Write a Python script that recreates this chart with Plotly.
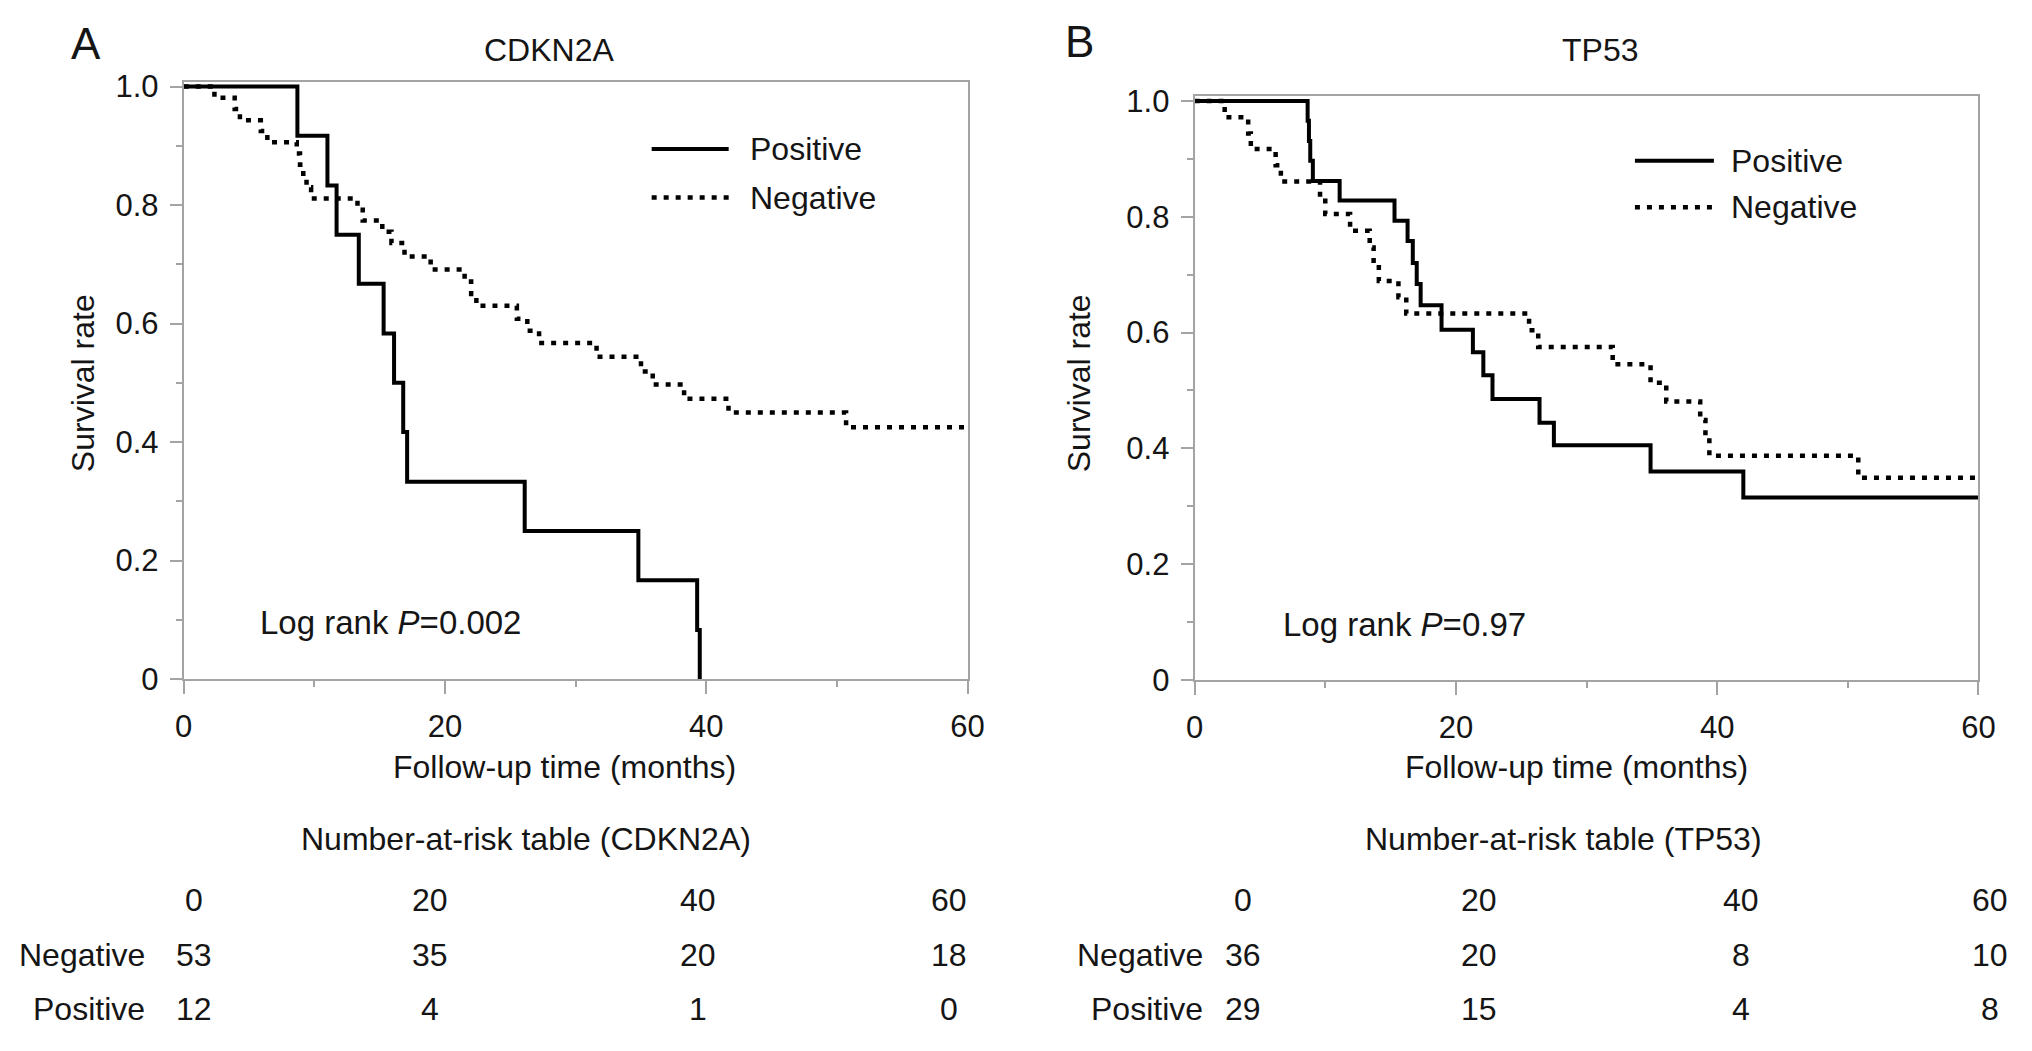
import plotly.graph_objects as go

W, H = 2032, 1051

# Kaplan-Meier step points (months, survival)
cdkn2a_pos_t = [0, 8.7, 11.0, 11.7, 13.4, 15.3, 16.1, 16.8, 17.1, 26.1, 34.8, 39.3, 39.5]
cdkn2a_pos_s = [1.0, 0.917, 0.833, 0.750, 0.667, 0.583, 0.500, 0.417, 0.333, 0.250, 0.167, 0.083, 0.0]

cdkn2a_neg_t = [0, 2.35, 3.9, 4.3, 5.9, 6.4, 8.65, 8.9, 9.15, 9.4, 9.75, 13.3, 13.7, 15.2, 15.9,
                16.9, 18.9, 21.5, 22.0, 22.4, 25.5, 26.3, 27.2, 31.6, 35.0, 35.9, 38.3, 41.7, 50.7, 60]
cdkn2a_neg_s = [1.0, 0.981, 0.962, 0.943, 0.925, 0.906, 0.887, 0.868, 0.849, 0.830, 0.811, 0.792,
                0.774, 0.755, 0.736, 0.713, 0.691, 0.671, 0.650, 0.630, 0.608, 0.588, 0.567, 0.544,
                0.519, 0.497, 0.473, 0.450, 0.425, 0.425]

tp53_pos_t = [0, 8.65, 8.75, 8.85, 9.05, 11.1, 15.3, 16.3, 16.7, 17.0, 17.3, 18.9, 21.3, 22.1,
              22.8, 26.4, 27.5, 34.9, 42.0, 60]
tp53_pos_s = [1.0, 0.966, 0.931, 0.897, 0.862, 0.828, 0.793, 0.758, 0.720, 0.684, 0.647, 0.605,
              0.566, 0.526, 0.485, 0.444, 0.405, 0.360, 0.315, 0.315]

tp53_neg_t = [0, 2.3, 4.1, 4.3, 6.2, 6.6, 9.6, 10.0, 11.9, 13.4, 13.7, 14.1, 15.6, 16.2, 25.6,
              26.3, 32.0, 34.9, 36.1, 38.7, 39.1, 39.4, 50.8, 60]
tp53_neg_s = [1.0, 0.972, 0.944, 0.917, 0.889, 0.861, 0.833, 0.805, 0.776, 0.747, 0.718, 0.689,
              0.661, 0.633, 0.604, 0.575, 0.545, 0.513, 0.481, 0.449, 0.418, 0.387, 0.349, 0.349]

# number-at-risk tables
risk_times = [0, 20, 40, 60]
cdkn2a_risk_neg = [53, 35, 20, 18]
cdkn2a_risk_pos = [12, 4, 1, 0]
tp53_risk_neg = [36, 20, 8, 10]
tp53_risk_pos = [29, 15, 4, 8]

x_tickvals = [0, 20, 40, 60]
y_tickvals = [0, 0.2, 0.4, 0.6, 0.8, 1.0]
y_ticktext = ["0", "0.2", "0.4", "0.6", "0.8", "1.0"]

FONT = "Liberation Sans, Arial, Helvetica, sans-serif"
GREY = "#a3a3a3"
TXT = "#151515"
DOT = "5px,7px"


def px(x):
    return x / W


def py(y):
    return 1 - y / H


# pixel layout of the two panels
panels = [
    dict(xa="x", ya="y", letter="A", title="CDKN2A",
         pos=(cdkn2a_pos_t, cdkn2a_pos_s), neg=(cdkn2a_neg_t, cdkn2a_neg_s),
         risk_neg=cdkn2a_risk_neg, risk_pos=cdkn2a_risk_pos, p="0.002",
         plot=(177, 971, 71.7, 686.7, 1.0082),
         letter_xy=(78, 32), title_xy=(547, 39), ytitle_xy=(75, 382), xtitle_xy=(563, 777),
         leg=(651, 729, 749, 141, 191), logrank=(252, 628),
         tab_title_x=524, tab_cols=[187, 426, 698, 952], tab_lab_x=140),
    dict(xa="x2", ya="y2", letter="B", title="TP53",
         pos=(tp53_pos_t, tp53_pos_s), neg=(tp53_neg_t, tp53_neg_s),
         risk_neg=tp53_risk_neg, risk_pos=tp53_risk_pos, p="0.97",
         plot=(1201, 1995, 86.7, 687.3, 1.0084),
         letter_xy=(1084, 30), title_xy=(1612, 39), ytitle_xy=(1084, 382), xtitle_xy=(1588, 777),
         leg=(1647, 1727, 1742, 153, 201), logrank=(1288, 630),
         tab_title_x=1575, tab_cols=[1250, 1489, 1754, 2007], tab_lab_x=1211),
]

fig = go.Figure()
annotations = []
shapes = []


def note(x, y, text, size=32, xanchor="center", angle=0):
    annotations.append(dict(
        x=px(x), y=py(y), xref="paper", yref="paper", text=text, showarrow=False,
        xanchor=xanchor, yanchor="middle", textangle=angle,
        font=dict(family=FONT, size=size, color=TXT)))


for i, p in enumerate(panels):
    fig.add_trace(go.Scatter(
        x=p["pos"][0], y=p["pos"][1], mode="lines", xaxis=p["xa"], yaxis=p["ya"],
        line=dict(shape="hv", color="black", width=4), showlegend=False, hoverinfo="skip"))
    fig.add_trace(go.Scatter(
        x=p["neg"][0], y=p["neg"][1], mode="lines", xaxis=p["xa"], yaxis=p["ya"],
        line=dict(shape="hv", color="black", width=4.5, dash=DOT), showlegend=False, hoverinfo="skip"))

    x0, x1, ytop, ybot, ymax = p["plot"]
    sfx = "" if i == 0 else str(i + 1)
    axis_common = dict(showgrid=False, zeroline=False, showline=True, linecolor=GREY, linewidth=2,
                       mirror=True, ticks="outside", tickcolor=GREY, tickwidth=2,
                       tickfont=dict(family=FONT, size=31, color=TXT))
    fig.layout["xaxis" + sfx] = dict(
        axis_common, domain=[px(x0), px(x1)], range=[0, 60], tickmode="array",
        tickvals=x_tickvals, ticklen=13, ticklabelstandoff=6, anchor=p["ya"],
        minor=dict(tickvals=[10, 30, 50], ticks="outside", ticklen=6, tickcolor=GREY, tickwidth=2))
    fig.layout["yaxis" + sfx] = dict(
        axis_common, domain=[py(ybot), py(ytop)], range=[0, ymax], tickmode="array",
        tickvals=y_tickvals, ticktext=y_ticktext, ticklen=12, ticklabelstandoff=5, anchor=p["xa"],
        minor=dict(tickvals=[0.1, 0.3, 0.5, 0.7, 0.9], ticks="outside", ticklen=6,
                   tickcolor=GREY, tickwidth=2))

    note(*p["letter_xy"], p["letter"], size=44)
    note(*p["title_xy"], p["title"], size=32)
    note(*p["ytitle_xy"], "Survival rate", size=32, angle=-90)
    note(*p["xtitle_xy"], "Follow-up time (months)", size=32)
    note(*p["logrank"], "Log rank <i>P</i>=" + p["p"], size=33, xanchor="left")

    # legend drawn as short line samples with labels
    lx0, lx1, ltx, ly_pos, ly_neg = p["leg"]
    shapes.append(dict(type="line", xref="paper", yref="paper", x0=px(lx0), x1=px(lx1),
                       y0=py(ly_pos), y1=py(ly_pos), line=dict(color="black", width=4)))
    shapes.append(dict(type="line", xref="paper", yref="paper", x0=px(lx0), x1=px(lx1),
                       y0=py(ly_neg), y1=py(ly_neg), line=dict(color="black", width=4.5, dash=DOT)))
    note(ltx, ly_pos, "Positive", size=32, xanchor="left")
    note(ltx, ly_neg, "Negative", size=32, xanchor="left")

    # number-at-risk table
    note(p["tab_title_x"], 851, "Number-at-risk table (%s)" % p["title"], size=32)
    for cx, t, n_neg, n_pos in zip(p["tab_cols"], risk_times, p["risk_neg"], p["risk_pos"]):
        note(cx, 914, str(t), size=32)
        note(cx, 971, str(n_neg), size=32)
        note(cx, 1026, str(n_pos), size=32)
    note(p["tab_lab_x"], 971, "Negative", size=32, xanchor="right")
    note(p["tab_lab_x"], 1026, "Positive", size=32, xanchor="right")

fig.update_layout(
    width=W, height=H, margin=dict(l=0, r=0, t=0, b=0),
    paper_bgcolor="white", plot_bgcolor="white",
    annotations=annotations, shapes=shapes, showlegend=False,
)

fig.write_html("out.html", config={"displayModeBar": False},
               post_script="document.body.style.margin='0';")
